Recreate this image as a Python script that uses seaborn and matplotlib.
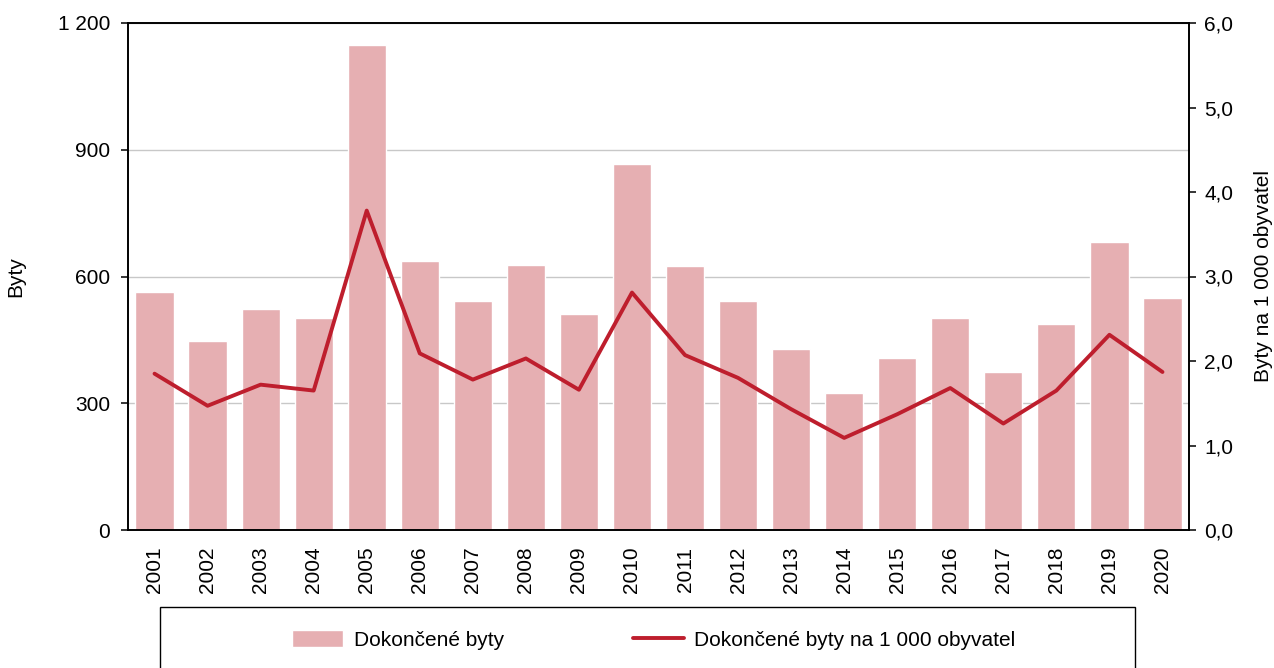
import matplotlib
matplotlib.use("Agg")
import matplotlib.pyplot as plt
import matplotlib.ticker as mticker
from matplotlib.patches import Rectangle
import numpy as np
import pandas as pd
import seaborn as sns

years = [str(y) for y in range(2001, 2021)]
dokoncene = [564, 447, 523, 502, 1149, 636, 542, 627, 511, 866,
             625, 542, 429, 325, 408, 501, 373, 487, 682, 548]
na_1000 = [1.85, 1.47, 1.72, 1.65, 3.78, 2.09, 1.78, 2.03, 1.66, 2.81,
           2.07, 1.80, 1.43, 1.09, 1.37, 1.68, 1.26, 1.65, 2.31, 1.87]

bar_color = "#E6AFB2"
line_color = "#BE1E2D"

sns.set_style("white")
plt.rcParams["font.family"] = ["Liberation Sans", "DejaVu Sans"]
plt.rcParams["font.size"] = 15
for k in ["text.color", "axes.labelcolor", "xtick.color", "ytick.color"]:
    plt.rcParams[k] = "black"

df = pd.DataFrame({"rok": years, "byty": dokoncene, "na1000": na_1000})

fig = plt.figure(figsize=(12.74, 6.68), dpi=100)
ax = fig.add_axes([128 / 1274, 1 - 530 / 668, (1189 - 128) / 1274, (530 - 23) / 668])

# bars - completed dwellings
sns.barplot(data=df, x="rok", y="byty", color=bar_color, saturation=1,
            width=0.72, ax=ax, label="Dokončené byty", zorder=2)
ax.set_xlim(-0.5, len(years) - 0.5)
ax.set_ylim(0, 1200)
ax.set_yticks(np.arange(0, 1201, 300))
ax.yaxis.set_major_formatter(mticker.FuncFormatter(lambda v, p: f"{int(v):,}".replace(",", " ")))
ax.grid(axis="y", color="#C8C8C8", lw=1.0, zorder=0)
ax.set_axisbelow(True)
ax.set_xlabel("")
ax.set_ylabel("Byty", fontsize=15, labelpad=23)

# x ticks: labels at centres, tick marks between categories
ax.set_xticks(np.arange(len(years)))
ax.set_xticklabels(years, rotation=90)
ax.set_xticks(np.arange(-0.5, len(years)), minor=True)
ax.tick_params(axis="x", which="major", length=0, pad=12, labelsize=15)
ax.tick_params(axis="x", which="minor", length=5, width=1.1, direction="out", color="black")
ax.tick_params(axis="y", length=5, width=1.1, direction="out", pad=8, labelsize=15, left=True)

for s in ax.spines.values():
    s.set_color("black")
    s.set_linewidth(1.2)

# line - per 1000 inhabitants
ax2 = ax.twinx()
sns.lineplot(x=np.arange(len(years)), y=df["na1000"], color=line_color, lw=2.8,
             ax=ax2, label="Dokončené byty na 1 000 obyvatel")
ax2.set_ylim(0, 6)
ax2.set_yticks(np.arange(0, 7, 1))
ax2.yaxis.set_major_formatter(mticker.FuncFormatter(lambda v, p: f"{v:.1f}".replace(".", ",")))
ax2.tick_params(axis="y", length=5, width=1.1, direction="out", pad=6, labelsize=15, right=True)
ax2.set_ylabel("Byty na 1 000 obyvatel", fontsize=15, labelpad=15)
ax2.set_xlim(-0.5, len(years) - 0.5)
for s in ax2.spines.values():
    s.set_color("black")
    s.set_linewidth(1.2)

h1, l1 = ax.get_legend_handles_labels()
h2, l2 = ax2.get_legend_handles_labels()
if ax.get_legend():
    ax.get_legend().remove()
if ax2.get_legend():
    ax2.get_legend().remove()

fig.legend(h1 + h2, l1 + l2, loc="center", bbox_to_anchor=(654 / 1274, 1 - 640 / 668),
           ncol=2, frameon=False, fontsize=15, handlelength=2.45, handleheight=0.9,
           handletextpad=0.5, columnspacing=6.2)

# legend box (cut off by the figure edge as in the reference)
fig.patches.append(Rectangle((160 / 1274, -0.05), (1135 - 160) / 1274, 0.05 + 1 - 607 / 668,
                             transform=fig.transFigure, fill=False, edgecolor="black",
                             lw=1.0, figure=fig))

fig.savefig("out.png", dpi=100)
